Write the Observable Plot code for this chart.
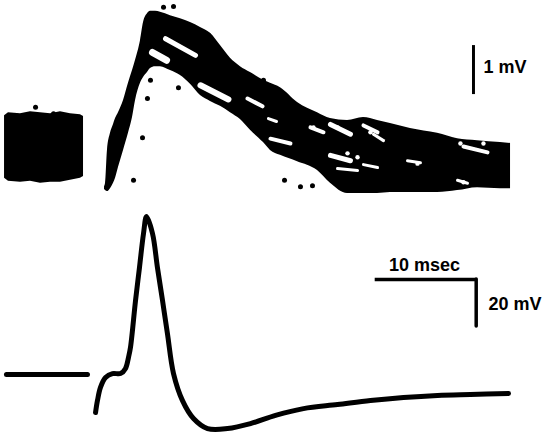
<!DOCTYPE html>
<html><head><meta charset="utf-8">
<script src="https://cdn.jsdelivr.net/npm/d3@7"></script>
<script src="https://cdn.jsdelivr.net/npm/@observablehq/plot@0.6"></script>
<style>body{margin:0;background:#fff}#chart svg{display:block}</style>
</head><body><div id="chart"></div>
<script>
// ---- Top record: superimposed sweeps (ms, mV) ----
const preT    = [0.40, 0.79, 1.98, 2.97, 3.96, 4.95, 5.94, 6.93, 7.92, 8.22];
const preHigh = [0.65, 0.71, 0.69, 0.73, 0.71, 0.69, 0.73, 0.69, 0.67, 0.63];
const preLow  = [-0.63, -0.69, -0.71, -0.69, -0.73, -0.71, -0.71, -0.67, -0.63, -0.59];

const bandT    = [10.30, 10.40, 10.59, 10.89, 11.19, 11.39, 11.68, 12.18, 12.67, 13.07, 13.37, 13.86, 14.16, 14.55, 14.85, 15.35, 15.84, 16.83, 17.82, 18.81, 19.80, 20.79, 21.78, 22.77, 23.76, 24.75, 26.04, 26.73, 27.72, 29.41, 31.39, 32.67, 34.36, 35.94, 37.33, 38.61, 40.59, 43.27, 45.25, 47.23, 49.50, 50.50];
const bandHigh = [-0.80, -0.73, -0.06, 0.29, 0.47, 0.59, 0.71, 0.96, 1.31, 1.57, 1.78, 2.18, 2.55, 2.73, 2.78, 2.78, 2.76, 2.69, 2.63, 2.55, 2.45, 2.33, 2.08, 1.82, 1.65, 1.53, 1.37, 1.31, 1.22, 0.92, 0.71, 0.59, 0.55, 0.61, 0.55, 0.49, 0.39, 0.29, 0.18, 0.14, 0.10, 0.08];
const bandLow  = [-0.86, -0.88, -0.90, -0.84, -0.73, -0.63, -0.41, -0.06, 0.29, 0.61, 0.96, 1.31, 1.43, 1.53, 1.61, 1.65, 1.65, 1.57, 1.47, 1.29, 1.06, 0.94, 0.84, 0.71, 0.57, 0.35, 0.10, -0.06, -0.16, -0.29, -0.47, -0.73, -0.94, -0.94, -0.94, -0.92, -0.92, -0.92, -0.88, -0.82, -0.84, -0.84];

// gaps between sweeps (segments)
const gapT1 = [16.34, 15.05, 19.80, 24.46, 26.53, 26.73, 30.69, 32.67, 35.94, 32.67, 33.37, 35.94, 36.93, 40.30, 45.25, 45.84];
const gapV1 = [2.22, 1.94, 1.27, 1.00, 0.59, 0.18, 0.41, 0.47, 0.45, -0.16, -0.43, -0.35, 0.27, -0.27, -0.67, 0.02];
const gapT2 = [19.31, 16.44, 22.57, 25.94, 27.33, 28.71, 31.98, 34.65, 37.33, 34.65, 35.35, 37.33, 37.92, 41.58, 46.24, 48.22];
const gapV2 = [1.88, 1.78, 0.98, 0.84, 0.53, 0.08, 0.31, 0.27, 0.31, -0.27, -0.47, -0.41, 0.14, -0.31, -0.73, -0.10];
const gapW  = [5, 7, 6, 4, 3, 4, 4, 5, 4, 5, 3, 3, 3, 3, 3, 4];

// small holes inside the band
const holeT = [30.99, 33.37, 36.63, 41.29, 34.36, 35.35, 45.54, 45.84, 47.82];
const holeV = [0.41, 0.41, 0.31, -0.33, -0.12, -0.20, 0.08, -0.71, 0.08];

// isolated specks of noise
const speckT = [17.13, 16.14, 17.62, 14.85, 14.55, 14.06, 13.17, 26.04, 20.59, 21.09, 3.47, 5.25, 28.12, 29.70, 30.89];
const speckV = [2.88, 2.86, 1.22, 1.37, 1.00, 0.20, -0.67, 1.37, 2.29, 2.14, 0.82, 0.69, -0.67, -0.80, -0.78];

// ---- Bottom record: action potential (ms, mV relative to rest) ----
const restT = [0.59, 8.61];
const restV = [0, 0];
const apT = [9.41, 9.60, 9.90, 10.40, 11.09, 11.88, 12.38, 12.67, 12.87, 13.37, 13.76, 14.16, 14.46, 15.05, 15.54, 16.04, 16.53, 17.13, 18.02, 19.11, 20.50, 22.48, 24.75, 27.23, 30.00, 33.37, 36.63, 39.90, 43.27, 46.53, 50.30];
const apV = [-16.2, -11.1, -5.5, -1.3, 0.4, 0.4, 2.6, 7.2, 11.5, 31.5, 45.5, 60.0, 67.2, 60.0, 45.5, 31.5, 17.4, 0.4, -11.1, -18.7, -23.0, -23.0, -20.9, -17.4, -14.5, -12.8, -11.1, -9.8, -8.9, -8.5, -8.1];

// ---- Calibration bars ----
const topBar = {t: 46.83, v: 1.08, mV: 1, label: "1 mV", labelT: 47.82, labelV: 1.63};
const timeBar = {t: 37.10, v: 40.4, ms: 10, label: "10 msec", labelT: 41.98, labelV: 46.7};
const voltBar = {mV: 20, label: "20 mV", labelT: 48.32, labelV: 30.1};

const xDomain = [0, 54.16];
const font = {fontFamily: "Liberation Sans, Arial, sans-serif", fontWeight: "bold", fontSize: 18, fill: "black"};

const pre = preT.map((t, i) => ({t, lo: preLow[i], hi: preHigh[i]}));
const band = bandT.map((t, i) => ({t, lo: bandLow[i], hi: bandHigh[i]}));
const gaps = gapT1.map((t, i) => ({t1: t, v1: gapV1[i], t2: gapT2[i], v2: gapV2[i], w: gapW[i]}));
const holes = holeT.map((t, i) => ({t, v: holeV[i]}));
const specks = speckT.map((t, i) => ({t, v: speckV[i]}));
const rest = restT.map((t, i) => ({t, v: restV[i]}));
const ap = apT.map((t, i) => ({t, v: apV[i]}));

const topPlot = Plot.plot({
  width: 547, height: 200, margin: 0,
  x: {domain: xDomain, axis: null},
  y: {domain: [-1.082, 3.0], axis: null},
  style: {background: "white"},
  marks: [
    Plot.areaY(pre, {x: "t", y1: "lo", y2: "hi", fill: "black", curve: "linear"}),
    Plot.areaY(band, {x: "t", y1: "lo", y2: "hi", fill: "black", curve: "monotone-x"}),
    Plot.link(gaps, {x1: "t1", y1: "v1", x2: "t2", y2: "v2", stroke: "white", strokeWidth: "w", strokeLinecap: "round"}),
    Plot.dot(holes, {x: "t", y: "v", r: 2.2, fill: "white"}),
    Plot.dot(specks, {x: "t", y: "v", r: 2.5, fill: "black"}),
    Plot.ruleX([topBar], {x: "t", y1: "v", y2: d => d.v + d.mV, stroke: "black", strokeWidth: 3}),
    Plot.text([topBar], {x: "labelT", y: "labelV", text: "label", textAnchor: "start", ...font})
  ]
});

const bottomPlot = Plot.plot({
  width: 547, height: 233, margin: 0,
  x: {domain: xDomain, axis: null},
  y: {domain: [-25.1, 74.04], axis: null},
  style: {background: "white"},
  marks: [
    Plot.line(rest, {x: "t", y: "v", stroke: "black", strokeWidth: 5, strokeLinecap: "round"}),
    Plot.line(ap, {x: "t", y: "v", stroke: "black", strokeWidth: 5, curve: "catmull-rom", strokeLinecap: "round", strokeLinejoin: "round"}),
    Plot.ruleY([timeBar], {y: "v", x1: "t", x2: d => d.t + d.ms, stroke: "black", strokeWidth: 3.5}),
    Plot.ruleX([timeBar], {x: d => d.t + d.ms, y1: "v", y2: d => d.v - voltBar.mV, stroke: "black", strokeWidth: 3.5, strokeLinecap: "round"}),
    Plot.text([timeBar], {x: "labelT", y: "labelV", text: "label", textAnchor: "middle", ...font}),
    Plot.text([voltBar], {x: "labelT", y: "labelV", text: "label", textAnchor: "start", ...font})
  ]
});

document.getElementById("chart").append(topPlot, bottomPlot);
</script></body></html>
